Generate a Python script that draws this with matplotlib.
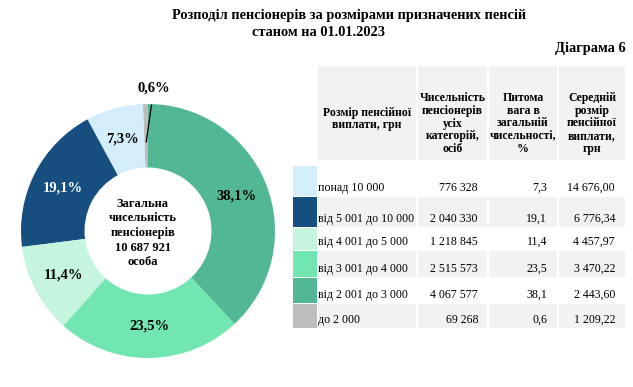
import numpy as np
import matplotlib
matplotlib.use("Agg")
import matplotlib.pyplot as plt
from matplotlib.patches import Rectangle

plt.rcParams['font.family'] = ['Liberation Serif', 'DejaVu Serif']

# ---------------- data ----------------
categories = ["понад 10 000", "від 5 001 до 10 000", "від 4 001 до 5 000",
              "від 3 001 до 4 000", "від 2 001 до 3 000", "до 2 000"]
counts = [776328, 2040330, 1218845, 2515573, 4067577, 69268]
shares = [7.3, 19.1, 11.4, 23.5, 38.1, 0.6]
avg_pension = [14676.00, 6776.34, 4457.97, 3470.22, 2443.60, 1209.22]
colors = ["#D3EDFA", "#174E80", "#C6F5DF", "#72E6B1", "#52B893", "#BDBDBD"]
label_colors = ["black", "white", "black", "black", "black", "black"]
pie_order = [5, 0, 1, 2, 3, 4]   # counter-clockwise from top
total = 10687921
headers = ["Розмір пенсійної\nвиплати, грн",
           "Чисельність\nпенсіонерів\nусіх\nкатегорій,\nосіб",
           "Питома\nвага в\nзагальній\nчисельності,\n%",
           "Середній\nрозмір\nпенсійної\nвиплати,\nгрн"]
title1 = "Розподіл пенсіонерів за розмірами призначених пенсій"
title2 = "станом на 01.01.2023"
diagram_label = "Діаграма 6"

W, H = 633, 387
fig = plt.figure(figsize=(W / 100, H / 100), dpi=100)

def fmt_int(v):
    return f"{v:,}".replace(",", " ")

def fmt_dec(v, nd):
    s = f"{v:,.{nd}f}"
    return s.replace(",", " ").replace(".", ",")

# ---------------- overlay axes in pixel coordinates ----------------
ov = fig.add_axes([0, 0, 1, 1])
ov.set_xlim(0, W)
ov.set_ylim(H, 0)
ov.axis("off")

ov.text(349.5, 15, title1, ha="center", va="center", fontsize=10.4, fontweight="bold")
ov.text(318.5, 33, title2, ha="center", va="center", fontsize=10.4, fontweight="bold")
ov.text(626, 48, diagram_label, ha="right", va="center", fontsize=10.4, fontweight="bold")

# table geometry
col_edges = [(318, 416), (418, 487), (489, 557), (559, 625)]
header_y = [119, 123.5, 123.5, 123.5]
sw_x0, sw_x1 = 293, 317
head_y0, head_y1 = 66, 160
row_edges = [(166, 196), (197, 227), (228, 250), (251, 277), (278, 303), (304, 328)]
gray = "#F2F2F2"

for (x0, x1), htxt, hy in zip(col_edges, headers, header_y):
    ov.add_patch(Rectangle((x0, head_y0), x1 - x0, head_y1 - head_y0,
                           facecolor=gray, edgecolor="none"))
    ov.text((x0 + x1) / 2, hy, htxt, ha="center",
            va="center", fontsize=8.5, fontweight="bold", linespacing=1.08)

for i, (y0, y1) in enumerate(row_edges):
    ov.add_patch(Rectangle((sw_x0, y0), sw_x1 - sw_x0, y1 - y0,
                           facecolor=colors[i], edgecolor="none"))
    if i % 2 == 1:
        for (x0, x1) in col_edges:
            ov.add_patch(Rectangle((x0, y0), x1 - x0, y1 - y0,
                                   facecolor=gray, edgecolor="none"))
    ty = y1 - 2
    ov.text(col_edges[0][0], ty, categories[i], ha="left", va="bottom", fontsize=8.6)
    ov.text(478, ty, fmt_int(counts[i]), ha="right", va="bottom", fontsize=8.6)
    ov.text(547, ty, fmt_dec(shares[i], 1), ha="right", va="bottom", fontsize=8.6)
    ov.text(615, ty, fmt_dec(avg_pension[i], 2), ha="right", va="bottom", fontsize=8.6)

# ---------------- donut ----------------
cx, cy, R = 148, 231, 127
ax = fig.add_axes([(cx - R) / W, (H - cy - R) / H, 2 * R / W, 2 * R / H])
vals = [counts[k] for k in pie_order]
cols = [colors[k] for k in pie_order]
wedges, _ = ax.pie(vals, colors=cols, startangle=90, counterclock=True,
                   radius=1.0, wedgeprops=dict(width=0.5, edgecolor="none"))
ax.set_xlim(-1, 1)
ax.set_ylim(-1, 1)
ax.set_aspect("equal")
ax.axis("off")

for w, k in zip(wedges, pie_order):
    mid = np.deg2rad((w.theta1 + w.theta2) / 2)
    lab = fmt_dec(shares[k], 1) + "%"
    if shares[k] < 2:
        ax.annotate(lab, xy=(0.70 * np.cos(mid), 0.70 * np.sin(mid)),
                    xytext=(1.13 * np.cos(mid) + 0.07, 1.13 * np.sin(mid)),
                    ha="center", va="center", fontsize=10.5, fontweight="bold",
                    arrowprops=dict(arrowstyle="-", color="black", lw=0.9,
                                    shrinkA=6, shrinkB=0))
    else:
        ax.text(0.75 * np.cos(mid), 0.75 * np.sin(mid), lab, ha="center",
                va="center", fontsize=10.5, fontweight="bold", color=label_colors[k])

ax.text(-0.04, -0.015, "Загальна\nчисельність\nпенсіонерів\n" + fmt_int(total) + "\nособа",
        ha="center", va="center", fontsize=9, fontweight="bold", linespacing=1.3)

fig.savefig("out.png", dpi=100)
